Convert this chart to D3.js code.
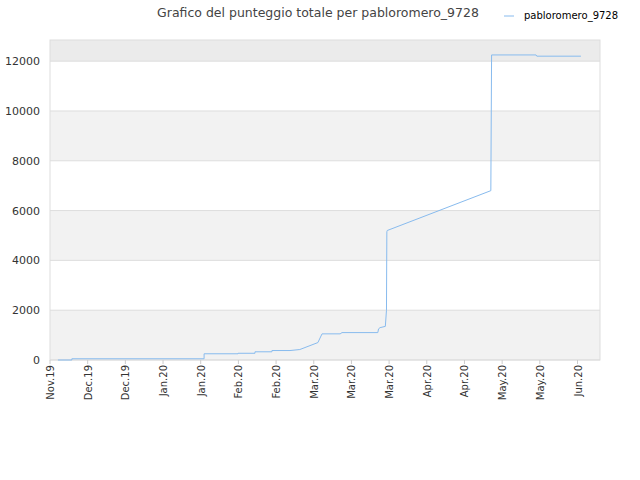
<!DOCTYPE html><html><head><meta charset="utf-8"><script src="https://cdn.jsdelivr.net/npm/d3@7"></script>
<style>body{margin:0;background:#fff}</style></head><body><svg width="640" height="480"></svg><script>
const tickLabels=["Nov.19","Dec.19","Dec.19","Jan.20","Jan.20","Feb.20","Feb.20","Mar.20","Mar.20","Mar.20","Apr.20","Apr.20","May.20","May.20","Jun.20"];
// x in tick units (0 = first tick)
const xs=[0.21,0.58,0.58,4.09,4.09,4.99,4.99,5.44,5.44,5.89,5.89,6.37,6.63,7.11,7.22,7.70,7.75,8.70,8.72,8.76,8.90,8.93,8.94,8.95,11.70,11.72,12.90,12.92,14.09];
const ys=[0,0,50,50,250,250,270,270,330,330,380,380,420,700,1050,1050,1100,1100,1250,1300,1350,2000,5150,5200,6800,12250,12250,12200,12200];
const svg=d3.select("svg");
const L=50,R=600,T=40,B=360;
const x=d3.scaleLinear().domain([0,14]).range([L,577.5]);
const y=d3.scaleLinear().domain([0,12850]).range([B,T]);
const bands=[[0,2000,"#f2f2f2"],[2000,4000,"#fff"],[4000,6000,"#f2f2f2"],[6000,8000,"#fff"],[8000,10000,"#f2f2f2"],[10000,12000,"#fff"],[12000,12850,"#ebebeb"]];
svg.selectAll("rect.b").data(bands).join("rect").attr("x",L).attr("width",R-L).attr("y",d=>y(d[1])).attr("height",d=>y(d[0])-y(d[1])).attr("fill",d=>d[2]);
const yt=[0,2000,4000,6000,8000,10000,12000];
svg.selectAll("line.g").data(yt).join("line").attr("x1",L).attr("x2",R).attr("y1",d=>y(d)).attr("y2",d=>y(d)).attr("stroke","#dddddd");
svg.append("rect").attr("x",L).attr("y",T).attr("width",R-L).attr("height",B-T).attr("fill","none").attr("stroke","#dddddd");
svg.selectAll("text.y").data(yt).join("text").attr("x",L-10).attr("y",d=>y(d)+4).attr("text-anchor","end").attr("font-family","DejaVu Sans").attr("font-size",11).attr("fill","#333").text(d=>d);
svg.selectAll("text.x").data(tickLabels).join("text").attr("transform",(d,i)=>`translate(${x(i)+4},${B+5}) rotate(-90)`).attr("text-anchor","end").attr("font-family","DejaVu Sans").attr("font-size",10).attr("fill","#333").text(d=>d);
svg.selectAll("line.xt").data(tickLabels).join("line").attr("x1",(d,i)=>x(i)).attr("x2",(d,i)=>x(i)).attr("y1",B).attr("y2",B+4).attr("stroke","#ccc");
svg.append("path").attr("d",d3.line().x(d=>x(d[0])).y(d=>y(d[1]))(xs.map((v,i)=>[v,ys[i]]))).attr("fill","none").attr("stroke","#88bbee").attr("stroke-width",1);
svg.append("text").attr("x",318).attr("y",17).attr("text-anchor","middle").attr("font-family","DejaVu Sans").attr("font-size",12.5).attr("fill","#444").text("Grafico del punteggio totale per pabloromero_9728");
svg.append("line").attr("x1",504).attr("x2",514).attr("y1",16).attr("y2",16).attr("stroke","#88bbee");
svg.append("text").attr("x",524).attr("y",19).attr("font-family","DejaVu Sans").attr("font-size",10).attr("fill","#000").text("pabloromero_9728");
</script></body></html>
